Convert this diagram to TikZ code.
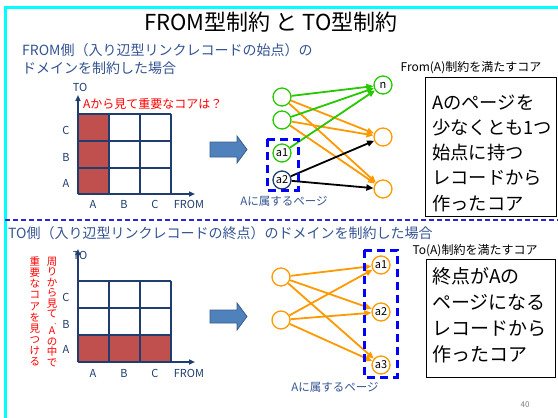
\documentclass[tikz,border=0pt]{standalone}
\usepackage{fontspec}
\setmainfont{Noto Sans CJK JP}
\usetikzlibrary{arrows.meta}
\definecolor{cyanb}{RGB}{0,255,255}
\definecolor{dblue}{RGB}{52,84,146}
\definecolor{navy}{RGB}{31,61,110}
\definecolor{redfill}{RGB}{192,80,77}
\definecolor{grn}{RGB}{40,200,0}
\definecolor{org}{RGB}{255,153,0}
\definecolor{pblue}{RGB}{0,0,255}
\definecolor{sepblue}{RGB}{40,40,210}
\definecolor{blkfill}{RGB}{79,129,189}
\definecolor{blkdraw}{RGB}{56,93,138}
\tikzset{
  txt/.style={inner sep=0pt, anchor=base},
  txtw/.style={inner sep=0pt, anchor=base west},
  circ/.style={circle, line width=1.3pt, minimum size=18pt, inner sep=0pt, fill=white, font=\fontsize{11}{12}\selectfont},
  gcirc/.style={circ, draw=grn},
  ocirc/.style={circ, draw=org},
  bcirc/.style={circ, draw=navy},
  edge/.style={line width=1.8pt, -{Triangle[length=7pt,width=6pt]}},
  axis/.style={draw=navy, line width=2pt, -{Triangle[length=6pt,width=5pt]}},
  gridl/.style={draw=navy, line width=1.5pt},
  pagebox/.style={draw=pblue, line width=3pt, dash pattern=on 8pt off 5pt},
  textbox/.style={draw=black, line width=1pt, inner sep=0pt, fill=white},
  blockarrow/.style={fill=blkfill, draw=blkdraw, line width=0.8pt},
  vchar/.style={inner sep=0pt, text=red, font=\fontsize{10.5}{11}\selectfont, text height=7pt, text depth=1pt},
}
\begin{document}
\begin{tikzpicture}[x=1pt,y=-1pt]
\useasboundingbox (0,0) rectangle (558,418);
\fill[white] (0,0) rectangle (558,418);
% frame
\draw[cyanb, line width=3pt] (5,418) -- (5,7) -- (558,7);
% title
\node[txt, font=\fontsize{22}{24}\selectfont] (title) at (271,30) {FROM型制約 と TO型制約};
% top subtitle
\node[txtw, text=dblue, font=\fontsize{14}{16}\selectfont] (sub1) at (22,55.5) {FROM側（入り辺型リンクレコードの始点）の};
\node[txtw, text=dblue, font=\fontsize{14}{16}\selectfont] (sub2) at (22,73.5) {ドメインを制約した場合};

% ---------- top grid ----------
\fill[redfill] (78,114) rectangle (109,194);
\foreach \x in {109,140,171} \draw[gridl] (\x,114) -- (\x,194);
\foreach \y in {114,141,168} \draw[gridl] (78,\y) -- (171,\y);
\draw[axis] (78,194) -- (78,95);
\draw[axis] (78,194) -- (195,194);
\node[txt, text=navy, font=\fontsize{11}{12}\selectfont] (tto) at (80,91) {TO};
\node[txtw, text=red, font=\fontsize{12}{13}\selectfont] (tq) at (83,108.5) {Aから見て重要なコアは？};
\node[txt, text=navy, font=\fontsize{11}{12}\selectfont] (trC) at (66,134) {C};
\node[txt, text=navy, font=\fontsize{11}{12}\selectfont] (trB) at (66,161) {B};
\node[txt, text=navy, font=\fontsize{11}{12}\selectfont] (trA) at (66,187) {A};
\node[txt, text=navy, font=\fontsize{11}{12}\selectfont] (tcA) at (93,208) {A};
\node[txt, text=navy, font=\fontsize{11}{12}\selectfont] (tcB) at (124,208) {B};
\node[txt, text=navy, font=\fontsize{11}{12}\selectfont] (tcC) at (155,208) {C};
\node[txt, text=navy, font=\fontsize{11}{12}\selectfont] (tfrom) at (189,208) {FROM};
% block arrow
\draw[blockarrow] (210,142) -- (237,142) -- (237,136) -- (247,149.5) -- (237,163) -- (237,157) -- (210,157) -- cycle;

% ---------- top graph ----------
\node[gcirc] (l1) at (282,97) {};
\node[gcirc] (l2) at (282,120) {};
\node[gcirc] (a1) at (282,153) {a1};
\node[bcirc] (a2) at (282,180) {a2};
\node[gcirc] (rn) at (383,85) {n};
\node[ocirc] (rm) at (383,137) {};
\node[ocirc] (rb) at (383,189) {};
\draw[edge, org] (l1) -- (rm);
\draw[edge, org] (l1) -- (rb);
\draw[edge, org] (l2) -- (rm);
\draw[edge, org] (l2) -- (rb);
\draw[edge, grn] (l1) -- (rn);
\draw[edge, grn] (l2) -- (rn);
\draw[edge, grn] (a1) -- (rn);
\draw[edge, black] (a2) -- (rm);
\draw[edge, black] (a2) -- (rb);
\draw[pagebox] (267,139) rectangle (298,190);
\node[txt, text=dblue, font=\fontsize{11.5}{12}\selectfont] (tpage) at (284,205) {Aに属するページ};
\node[txt, font=\fontsize{12}{13}\selectfont] (tfromlbl) at (471,71.5) {From(A)制約を満たすコア};
\node[textbox, anchor=north west, minimum width=131pt, minimum height=139pt] (box1) at (425,77) {};
\foreach \t [count=\i] in {Aのページを,少なくとも1つ,始点に持つ,レコードから,作ったコア}
  \node[txtw, font=\fontsize{18.3}{22}\selectfont] (b1l\i) at (432,{109+25.3*(\i-1)}) {\t};

% separator
\draw[sepblue, line width=1.6pt, dash pattern=on 5pt off 3pt] (5,220) -- (558,220);

% ---------- bottom ----------
\node[txtw, text=dblue, font=\fontsize{14}{16}\selectfont] (sub3) at (8,238.5) {TO側（入り辺型リンクレコードの終点）のドメインを制約した場合};

\fill[redfill] (78,335) rectangle (171,362);
\foreach \x in {109,140,171} \draw[gridl] (\x,281) -- (\x,362);
\foreach \y in {281,308,335} \draw[gridl] (78,\y) -- (171,\y);
\draw[axis] (78,362) -- (78,249);
\draw[axis] (78,362) -- (195,362);
\node[txt, text=navy, font=\fontsize{11}{12}\selectfont] (bto) at (80,259) {TO};
\node[txt, text=navy, font=\fontsize{11}{12}\selectfont] (brC) at (66,301) {C};
\node[txt, text=navy, font=\fontsize{11}{12}\selectfont] (brB) at (66,328) {B};
\node[txt, text=navy, font=\fontsize{11}{12}\selectfont] (brA) at (66,353) {A};
\node[txt, text=navy, font=\fontsize{11}{12}\selectfont] (bcA) at (93,377) {A};
\node[txt, text=navy, font=\fontsize{11}{12}\selectfont] (bcB) at (124,377) {B};
\node[txt, text=navy, font=\fontsize{11}{12}\selectfont] (bcC) at (155,377) {C};
\node[txt, text=navy, font=\fontsize{11}{12}\selectfont] (bfrom) at (189,377) {FROM};
% vertical red text
\foreach \c [count=\i] in {周,り,か,ら,見}
  \node[vchar] (v1c\i) at (52,{262+10.5*(\i-1)}) {\c};
\node[vchar] (v1c6) at (52,314.5) {て\rlap{\kern-3pt\raisebox{-6.6pt}{\fontsize{6}{7}\selectfont 、}}};
\node[vchar] (v1c8) at (52,331.5) {A};
\foreach \c [count=\i] in {の,中,で}
  \node[vchar] (v1c\i x) at (52,{342+10.5*(\i-1)}) {\c};
\foreach \c [count=\i] in {重,要,な,コ,ア,を,見,つ,け,る}
  \node[vchar] (v2c\i) at (35,{262.5+11.15*(\i-1)}) {\c};
% block arrow
\draw[blockarrow] (210,310) -- (237,310) -- (237,303) -- (247,316.5) -- (237,330) -- (237,323) -- (210,323) -- cycle;

% bottom graph
\node[ocirc] (m1) at (281,277) {};
\node[ocirc] (m2) at (281,320) {};
\node[ocirc] (p1) at (381,265) {a1};
\node[ocirc] (p2) at (381,312) {a2};
\node[ocirc] (p3) at (381,365) {a3};
\foreach \s in {m1,m2}
  \foreach \d in {p1,p2,p3}
    \draw[edge, org] (\s) -- (\d);
\draw[pagebox] (364,250) rectangle (397,377);
\node[txt, text=dblue, font=\fontsize{11.5}{12}\selectfont] (bpage) at (335,391) {Aに属するページ};
\node[txt, font=\fontsize{12}{13}\selectfont] (ttolbl) at (475,254.5) {To(A)制約を満たすコア};
\node[textbox, anchor=north west, minimum width=129pt, minimum height=118pt] (box2) at (426,259) {};
\foreach \t [count=\i] in {終点がAの,ページになる,レコードから,作ったコア}
  \node[txtw, font=\fontsize{19}{22}\selectfont] (b2l\i) at (432,{283+26.3*(\i-1)}) {\t};

\node[inner sep=0pt, text=gray, font=\fontsize{8}{9}\selectfont] (pnum) at (525,405) {40};
\end{tikzpicture}
\end{document}
